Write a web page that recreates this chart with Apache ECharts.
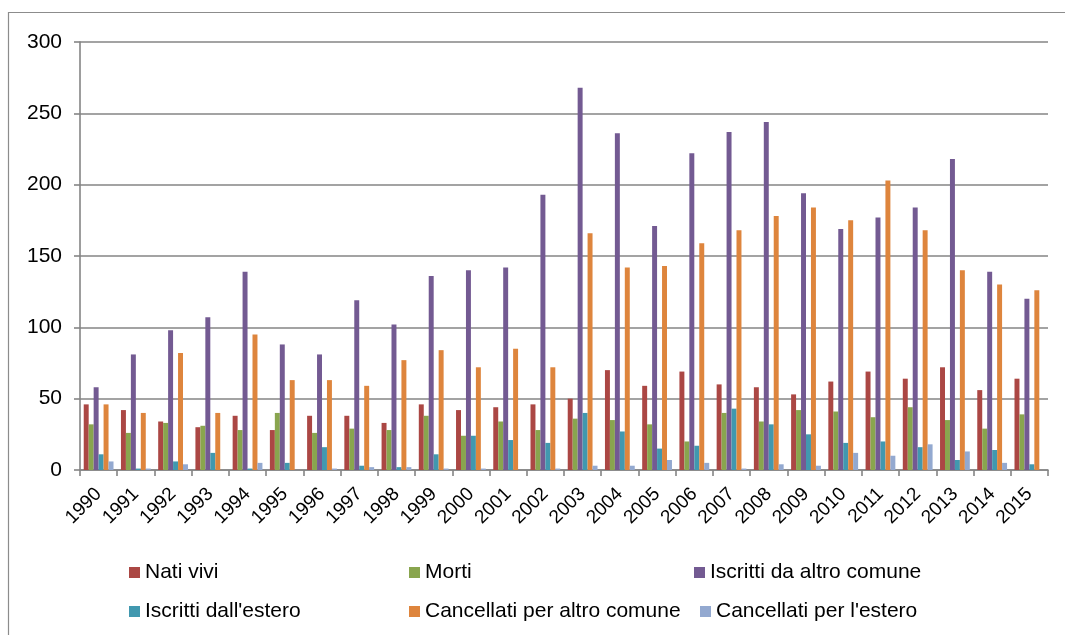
<!DOCTYPE html>
<html>
<head>
<meta charset="utf-8">
<title>Movimento demografico 1990-2015</title>
<script src="https://cdn.jsdelivr.net/npm/echarts@6/dist/echarts.min.js"></script>
<style>
  html, body { margin: 0; padding: 0; background: #ffffff; }
  #chart { width: 1065px; height: 635px; }
</style>
</head>
<body>
<div id="chart"></div>
<script>
// Anni
const anni = ['1990','1991','1992','1993','1994','1995','1996','1997','1998','1999',
              '2000','2001','2002','2003','2004','2005','2006','2007','2008','2009',
              '2010','2011','2012','2013','2014','2015'];

// Serie
const natiVivi = [46,42,34,30,38,28,38,38,33,46,42,44,46,50,70,59,69,60,58,53,62,69,64,72,56,64];
const morti = [32,26,33,31,28,40,26,29,28,38,24,34,28,36,35,32,20,40,34,42,41,37,44,35,29,39];
const iscrittiAltroComune = [58,81,98,107,139,88,81,119,102,136,140,142,193,268,236,171,222,237,244,194,169,177,184,218,139,120];
const iscrittiEstero = [11,1,6,12,1,5,16,3,2,11,24,21,19,40,27,15,17,43,32,25,19,20,16,7,14,4];
const cancellatiAltroComune = [46,40,82,40,95,63,63,59,77,84,72,85,72,166,142,143,159,168,178,184,175,203,168,140,130,126];
const cancellatiEstero = [6,1,4,0,5,0,1,2,2,1,1,0,1,3,3,7,5,1,4,3,12,10,18,13,5,0];

// Tacche asse Y
const yMin = 0, yMax = 300, yStep = 50;

const nomi = ['Nati vivi', 'Morti', 'Iscritti da altro comune',
              "Iscritti dall'estero", 'Cancellati per altro comune', "Cancellati per l'estero"];
const colori = ['#AB4744', '#89A54E', '#735A92', '#4198AF', '#DE853D', '#93A9D0'];
const valori = [natiVivi, morti, iscrittiAltroComune, iscrittiEstero, cancellatiAltroComune, cancellatiEstero];

const FONT = '"Liberation Sans", Arial, sans-serif';
const GRIGIO = '#858585';

// Posizioni della legenda (due righe, tre colonne)
const legendPos = [
  { left: 129, top: 562 }, { left: 409, top: 562 }, { left: 694, top: 562 },
  { left: 129, top: 601 }, { left: 409, top: 601 }, { left: 700, top: 601 }
];

const chart = echarts.init(document.getElementById('chart'), null, { renderer: 'canvas' });

chart.setOption({
  animation: false,
  backgroundColor: '#ffffff',
  textStyle: { fontFamily: FONT },
  graphic: [{
    type: 'rect',
    silent: true,
    z: -10,
    shape: { x: 8.5, y: 12.5, width: 1100, height: 700 },
    style: { fill: 'none', stroke: '#8C8C8C', lineWidth: 1.2 }
  }],
  grid: { left: 80, right: 17, top: 42, bottom: 165, containLabel: false },
  legend: nomi.map((n, i) => ({
    data: [n],
    left: legendPos[i].left,
    top: legendPos[i].top,
    padding: 0,
    icon: 'rect',
    itemWidth: 11,
    itemHeight: 11,
    selectedMode: false,
    textStyle: { fontFamily: FONT, fontSize: 21, color: '#000000' }
  })),
  xAxis: {
    type: 'category',
    data: anni,
    boundaryGap: true,
    axisLine: { show: true, lineStyle: { color: GRIGIO, width: 1.6 } },
    axisTick: { show: true, length: 6, lineStyle: { color: GRIGIO, width: 1.6 } },
    axisLabel: {
      interval: 0,
      rotate: 45,
      margin: 21,
      fontFamily: FONT,
      fontSize: 19,
      color: '#000000'
    },
    splitLine: { show: false }
  },
  yAxis: {
    type: 'value',
    min: yMin,
    max: yMax,
    interval: yStep,
    axisLine: { show: true, lineStyle: { color: GRIGIO, width: 1.6 } },
    axisTick: { show: true, length: 6, lineStyle: { color: GRIGIO, width: 1.6 } },
    axisLabel: {
      margin: 18,
      fontFamily: FONT,
      fontSize: 21,
      color: '#000000'
    },
    splitLine: { show: true, lineStyle: { color: GRIGIO, width: 1.6 } }
  },
  series: nomi.map((n, i) => ({
    name: n,
    type: 'bar',
    data: valori[i],
    barGap: '0%',
    barCategoryGap: '20%',
    itemStyle: { color: colori[i] }
  }))
});
</script>
</body>
</html>
